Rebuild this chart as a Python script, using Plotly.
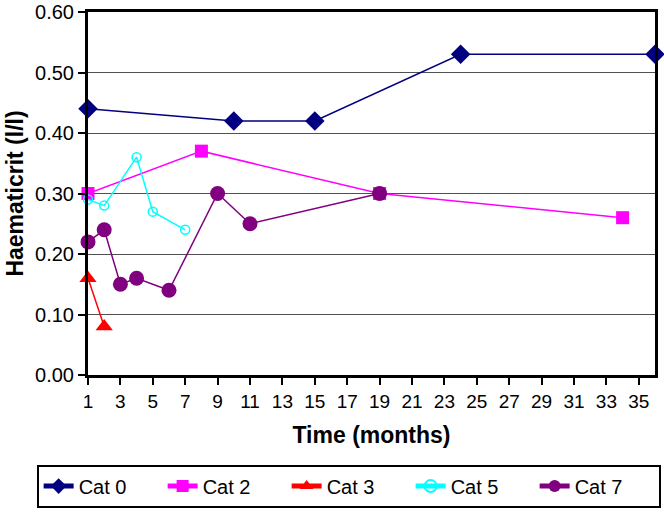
import plotly.graph_objects as go

cat0_x = [1, 10, 15, 24, 36]
cat0_y = [0.44, 0.42, 0.42, 0.53, 0.53]
cat2_x = [1, 8, 19, 34]
cat2_y = [0.30, 0.37, 0.30, 0.26]
cat3_x = [1, 2]
cat3_y = [0.16, 0.08]
cat5_x = [1, 2, 4, 5, 7]
cat5_y = [0.29, 0.28, 0.36, 0.27, 0.24]
cat7_x = [1, 2, 3, 4, 6, 9, 11, 19]
cat7_y = [0.22, 0.24, 0.15, 0.16, 0.14, 0.30, 0.25, 0.30]

x_ticks = list(range(1, 37, 2))
y_ticks = [0.0, 0.1, 0.2, 0.3, 0.4, 0.5, 0.6]

FONT = "Liberation Sans, Arial, sans-serif"

fig = go.Figure()
fig.add_trace(go.Scatter(x=cat0_x, y=cat0_y, name="Cat 0", mode="lines+markers",
                         line=dict(color="#000080", width=1.5), cliponaxis=False,
                         marker=dict(symbol="diamond", size=15, color="#000080")))
fig.add_trace(go.Scatter(x=cat2_x, y=cat2_y, name="Cat 2", mode="lines+markers",
                         line=dict(color="#FF00FF", width=1.5), cliponaxis=False,
                         marker=dict(symbol="square", size=13, color="#FF00FF")))
fig.add_trace(go.Scatter(x=cat3_x, y=cat3_y, name="Cat 3", mode="lines+markers",
                         line=dict(color="#FF0000", width=1.5), cliponaxis=False,
                         marker=dict(symbol="triangle-up", size=15, color="#FF0000")))
fig.add_trace(go.Scatter(x=cat5_x, y=cat5_y, name="Cat 5", mode="lines+markers",
                         line=dict(color="#00FFFF", width=1.5), cliponaxis=False,
                         marker=dict(symbol="circle-open", size=9, color="#00FFFF",
                                     line=dict(width=1.5, color="#00FFFF"))))
fig.add_trace(go.Scatter(x=cat7_x, y=cat7_y, name="Cat 7", mode="lines+markers",
                         line=dict(color="#800080", width=1.5), cliponaxis=False,
                         marker=dict(symbol="circle", size=15, color="#800080")))

fig.update_layout(
    width=664, height=512,
    margin=dict(l=88, r=9, t=12, b=137, autoexpand=False),
    paper_bgcolor="white", plot_bgcolor="white",
    font=dict(family=FONT, size=20, color="black"),
    showlegend=True,
    legend=dict(orientation="h", x=-0.0906, xanchor="left", y=-0.306, yanchor="middle",
                bordercolor="black", borderwidth=2, font=dict(size=20),
                entrywidth=79, entrywidthmode="pixels", itemsizing="constant"),
)
fig.update_xaxes(range=[1, 36], tickvals=x_ticks, ticks="outside", ticklen=7,
                 tickwidth=2, tickcolor="black", showline=True, linecolor="black",
                 linewidth=3, mirror=True, showgrid=False, zeroline=False,
                 tickfont=dict(size=19), ticklabeloverflow="allow",
                 title=dict(text="<b>Time (months)</b>", font=dict(size=23), standoff=17))
fig.update_yaxes(range=[0, 0.6], tickvals=y_ticks, tickformat=".2f", ticks="outside",
                 ticklen=7, tickwidth=2, tickcolor="black", showline=True,
                 linecolor="black", linewidth=3, mirror=True, showgrid=True,
                 gridcolor="#505050", gridwidth=1, zeroline=False,
                 tickfont=dict(size=20), ticklabeloverflow="allow",
                 title=dict(text="<b>Haematicrit (l/l)</b>", font=dict(size=23), standoff=6))

fig.write_html("out.html", post_script="document.body.style.margin='0';",
               config={"displayModeBar": False})
